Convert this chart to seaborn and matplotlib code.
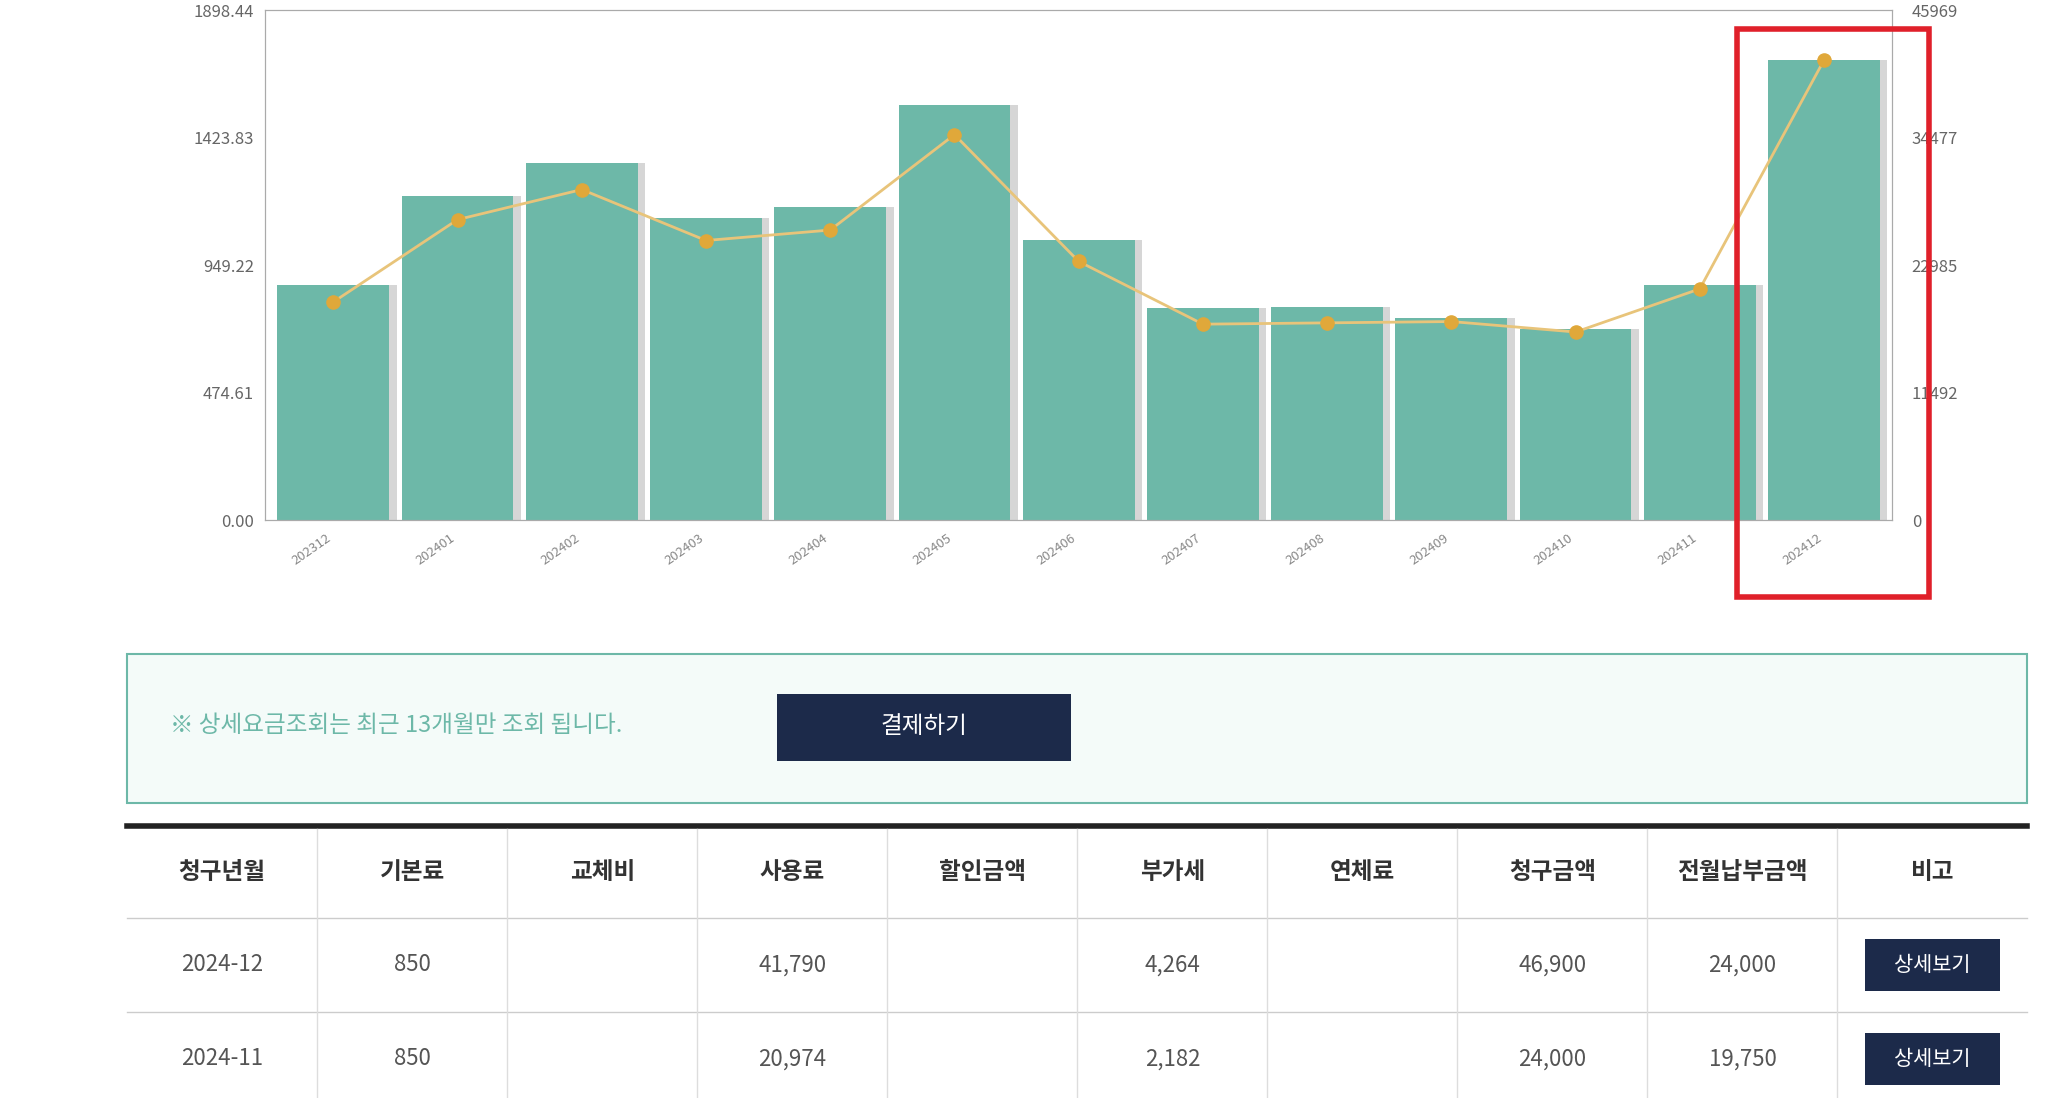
import matplotlib
matplotlib.use("Agg")
import matplotlib.pyplot as plt
import seaborn as sns
import pandas as pd
from matplotlib.patches import Rectangle

plt.rcParams["font.family"] = ["Noto Sans CJK KR", "DejaVu Sans"]

months = ["202312","202401","202402","202403","202404","202405","202406",
          "202407","202408","202409","202410","202411","202412"]
usage = [876, 1207, 1329, 1124, 1168, 1548, 1042, 789, 793, 754, 711, 876, 1713]
charge = [19685, 27110, 29822, 25225, 26168, 34772, 23339, 17681, 17799, 17917, 16974, 20863, 41490]
left_ticks = [0, 474.61, 949.22, 1423.83, 1898.44]
right_ticks = [0, 11492, 22985, 34477, 45969]
headers = ["청구년월","기본료","교체비","사용료","할인금액","부가세","연체료","청구금액","전월납부금액","비고"]
rows = [["2024-12","850","","41,790","","4,264","","46,900","24,000","상세보기"],
        ["2024-11","850","","20,974","","2,182","","24,000","19,750","상세보기"]]

W, H = 1550, 840
fig = plt.figure(figsize=(20.54, 10.98), dpi=100)
def fx(x): return x / W
def fy(y): return 1 - y / H

ax = fig.add_axes([fx(200), fy(398), fx(1428) - fx(200), fy(8) - fy(398)])
df = pd.DataFrame({"month": months, "usage": usage, "charge": charge})
x = list(range(len(months)))
# shadows
ax.bar([i + 0.06 for i in x], usage, width=0.9, color="#bbbbbb", alpha=0.6, zorder=1)
sns.barplot(data=df, x="month", y="usage", color="#6db8a8", width=0.9, saturation=1, ax=ax, zorder=2)
ax.set_xlim(-0.55, 12.55)
ax.set_ylim(0, 1898.44)
ax.set_yticks(left_ticks)
ax.set_yticklabels([f"{v:.2f}" for v in left_ticks], fontsize=12, color="#666666")
ax.set_xlabel(""); ax.set_ylabel("")
ax.set_xticks(x)
ax.set_xticklabels(months, rotation=35, ha="right", fontsize=9.5, color="#888888")
for s in ["top", "right", "left", "bottom"]:
    ax.spines[s].set_color("#aaaaaa")
ax.tick_params(length=0, pad=8)

ax2 = ax.twinx()
ax2.plot(x, charge, color="#e8c47a", lw=2, zorder=3)
ax2.scatter(x, charge, color="#e0a83a", s=90, zorder=4)
ax2.set_ylim(0, 45969)
ax2.set_yticks(right_ticks)
ax2.set_yticklabels([str(v) for v in right_ticks], fontsize=12, color="#666666")
ax2.tick_params(length=0, pad=14)
for s in ax2.spines.values():
    s.set_color("#aaaaaa")

# red highlight
fig.patches.append(Rectangle((fx(1311), fy(457)), fx(1456) - fx(1311), fy(22) - fy(457),
                             transform=fig.transFigure, fill=False, ec="#e0202a", lw=4))

# info box
fig.patches.append(Rectangle((fx(96), fy(614)), fx(1530) - fx(96), fy(500) - fy(614),
                             transform=fig.transFigure, fc="#f4fbf9", ec="#6db8a8", lw=1.5))
fig.text(fx(128), fy(555), "※ 상세요금조회는 최근 13개월만 조회 됩니다.", fontsize=17, color="#6db8a8", va="center")
fig.patches.append(Rectangle((fx(586), fy(582)), fx(808) - fx(586), fy(531) - fy(582),
                             transform=fig.transFigure, fc="#1c2a4a", ec="none"))
fig.text(fx(697), fy(556), "결제하기", fontsize=17, color="white", ha="center", va="center")

# table
x0, x1 = 96, 1530
cw = (x1 - x0) / 10
fig.add_artist(plt.Line2D([fx(x0), fx(x1)], [fy(632), fy(632)], color="#222222", lw=4))
for yy in [702, 774]:
    fig.add_artist(plt.Line2D([fx(x0), fx(x1)], [fy(yy), fy(yy)], color="#cccccc", lw=1))
for i in range(1, 10):
    xx = x0 + i * cw
    fig.add_artist(plt.Line2D([fx(xx), fx(xx)], [fy(840), fy(634)], color="#dddddd", lw=1))
for i, h in enumerate(headers):
    fig.text(fx(x0 + (i + 0.5) * cw), fy(667), h, fontsize=17, fontweight="bold",
             color="#333333", ha="center", va="center")
for r, (row, yc) in enumerate(zip(rows, [738, 810])):
    for i, v in enumerate(row):
        cx = x0 + (i + 0.5) * cw
        if i == 9:
            fig.patches.append(Rectangle((fx(cx - 51), fy(yc + 20)), fx(102), fy(0) - fy(40),
                                         transform=fig.transFigure, fc="#1c2a4a", ec="none"))
            fig.text(fx(cx), fy(yc), v, fontsize=15, color="white", ha="center", va="center")
        else:
            fig.text(fx(cx), fy(yc), v, fontsize=16, color="#555555", ha="center", va="center")

fig.savefig("out.png", dpi=100)
